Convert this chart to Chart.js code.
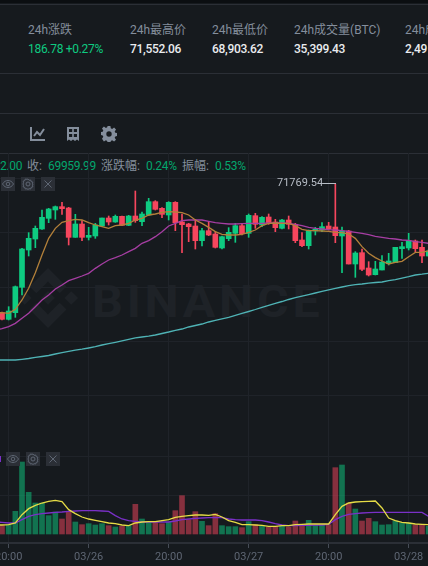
<!DOCTYPE html>
<html lang="zh">
<head>
<meta charset="utf-8">
<title>BTC/USDT</title>
<script src="https://cdn.jsdelivr.net/npm/chart.js@4/dist/chart.umd.min.js"></script>
<style>
    html, body { margin: 0; padding: 0; background: #161a1e; }
    body { position: relative; width: 428px; height: 566px; overflow: hidden; font-family: Roboto, "Noto Sans CJK SC", sans-serif; }
    .top-strip { position: absolute; left: 0; top: 0; width: 428px; height: 3px; background: #0b0e11; }
    .rule { position: absolute; left: 0; width: 428px; height: 1px; background: #2b2f36; }
    .txt { position: absolute; white-space: nowrap; line-height: 16px; font-size: 12px; letter-spacing: -0.3px; }
    .label { color: #848e9c; letter-spacing: 0; }
    .value { color: #eaecef; font-weight: 500; }
    .up { color: #0ecb81; }
    .legend { color: #848e9c; letter-spacing: 0; }
    .legend-up { color: #03a66d; }
    .btn { position: absolute; width: 14px; height: 14px; background: #2b2f36; }
    .btn svg { display: block; }
    .watermark { position: absolute; left: 92px; top: 277px; font-size: 44px; line-height: 50px; font-weight: 700; color: #1e2227; letter-spacing: 3.4px; transform: scaleX(1.1); transform-origin: left; }
    .logo { position: absolute; left: 18px; top: 268px; }
    canvas { position: absolute; left: 0; top: 0; }
</style>
</head>
<body>
<div class="top-strip"></div>
<div class="rule" style="top:4px"></div>
<div class="rule" style="top:73px"></div>
<div class="rule" style="top:113px"></div>
<div class="rule" style="top:153px"></div>

<div class="txt label" style="left:28px;top:22px">24h涨跌</div>
<div class="txt up" style="left:28px;top:41px">186.78 +0.27%</div>
<div class="txt label" style="left:130px;top:22px">24h最高价</div>
<div class="txt value" style="left:130px;top:41px">71,552.06</div>
<div class="txt label" style="left:212px;top:22px">24h最低价</div>
<div class="txt value" style="left:212px;top:41px">68,903.62</div>
<div class="txt label" style="left:294px;top:22px">24h成交量(BTC)</div>
<div class="txt value" style="left:294px;top:41px">35,399.43</div>
<div class="txt label" style="left:405px;top:22px">24h成交额(USDT)</div>
<div class="txt value" style="left:405px;top:41px">2,49</div>

<svg style="position:absolute;left:30px;top:126px" width="15" height="16" viewBox="0 0 15 16" fill="none" stroke="#848e9c" stroke-width="2">
    <path d="M1 1v13h14"/><path d="M4 10l3-4 3 3 4-6"/>
</svg>
<svg style="position:absolute;left:66px;top:126px" width="14" height="16" viewBox="0 0 14 16">
    <path fill="#848e9c" d="M1 1h12v14l-2-1.5-2 1.5-2-1.5-2 1.5-2-1.5-2 1.5z"/>
    <path fill="#161a1e" d="M3 3h3.2v3H3zM7.8 3H11v3H7.8zM3 8h3.2v3H3zM7.8 8H11v3H7.8z"/>
</svg>
<svg style="position:absolute;left:101px;top:126px" width="16" height="16" viewBox="0 0 16 16">
    <path fill="#848e9c" fill-rule="evenodd" d="M6.6 0h2.8l.4 2.3 1.3.6 2-1.3 1.9 1.9-1.3 2 .6 1.3 2.2.4v2.8l-2.2.4-.6 1.3 1.3 2-1.9 1.9-2-1.3-1.3.6-.4 2.2H6.6l-.4-2.2-1.3-.6-2 1.3L1 12.7l1.3-2-.6-1.3L-.5 9V6.200l2.200-.4.6-1.300-1.300-2L2.900 .6l2 1.300 1.300-.6zM8 5.300a2.700 2.700 0 1 0 0 5.400 2.700 2.700 0 0 0 0-5.400z"/>
</svg>

<div class="txt legend-up" style="left:0;top:158px">2.00</div>
<div class="txt legend" style="left:27px;top:158px">收:</div>
<div class="txt legend-up" style="left:48px;top:158px">69959.99</div>
<div class="txt legend" style="left:101px;top:158px">涨跌幅:</div>
<div class="txt legend-up" style="left:146px;top:158px">0.24%</div>
<div class="txt legend" style="left:182px;top:158px">振幅:</div>
<div class="txt legend-up" style="left:215px;top:158px">0.53%</div>

<svg class="logo" width="60" height="60" viewBox="0 0 126.61 126.61" fill="#1e2227">
    <path d="M38.73 53.2l24.59-24.58 24.6 24.6 14.3-14.31L63.32 0 24.43 38.89 38.73 53.2z"/>
    <path d="M0 63.31l14.3-14.31 14.31 14.31-14.31 14.3z"/>
    <path d="M38.73 73.41l24.59 24.59 24.6-24.6 14.31 14.29-38.9 38.91-38.91-38.88-.01-.01 14.32-14.3z"/>
    <path d="M98 63.31l14.3-14.31 14.31 14.3-14.31 14.31z"/>
    <path d="M77.83 63.3L63.32 48.78 52.59 59.51l-1.24 1.23-2.54 2.54 14.51 14.5 14.51-14.47z"/>
</svg>
<div class="watermark">BINANCE</div>

<canvas id="kline_chart" width="428" height="566"></canvas>

<div class="txt" style="left:277px;top:175px;color:#b7bdc6;font-size:11px;letter-spacing:0">71769.54</div>
<div style="position:absolute;left:323px;top:183px;width:13px;height:1px;background:#b7bdc6"></div>

<div id="price_btns"></div>
<div id="vol_btns"></div>
<div style="position:absolute;left:0;top:456px;width:1px;height:6px;background:#7a30c8"></div>

<script>
// candles, hourly, left to right
const opens = [67910, 67710, 67910, 68670, 69790, 70120, 70420, 70740, 70990, 71090, 71050, 70170, 70570, 70170, 70210, 70510, 70750, 70630, 70800, 70530, 70810, 70640,
    70840, 71240, 71040, 70840, 71220, 70630, 70570, 70510, 70070, 70370, 70270, 69850, 70130, 70290, 70520, 70290, 70820, 70540, 70780, 70630, 70440,
    70690, 70560, 70090, 69920, 70360, 70390, 70510, 70480, 70210, 70360, 69370, 69710, 69250, 69050, 69190, 69380, 69410, 69830, 69850, 70060, 69870, 69610];
const highs = [67930, 68090, 68710, 69840, 70310, 70510, 70990, 71040, 71110, 71220, 71070, 70860, 70670, 70470, 70590, 70750, 70810, 70840, 70810, 70830, 71560, 70930,
    71340, 71270, 71060, 71240, 71240, 70870, 70590, 70710, 70440, 70640, 70340, 70210, 70460, 70590, 70560, 70870, 70890, 70790, 70870, 70710, 70710,
    70810, 70590, 70310, 70390, 70470, 70610, 70620, 71770, 70480, 70380, 69740, 69820, 69440, 69450, 69620, 69690, 69870, 70020, 70290, 70090, 70090, 69810];
const lows = [67690, 67690, 67770, 68440, 69610, 69860, 70410, 70610, 70710, 70860, 69940, 70170, 70070, 70090, 70140, 70490, 70540, 70620, 70520, 70520, 70620, 70520,
    70820, 70990, 70760, 70690, 70370, 69710, 70040, 69820, 69910, 70220, 69850, 69820, 70070, 70020, 70240, 70170, 70440, 70490, 70560, 70340, 70420,
    70420, 70010, 69890, 69820, 70240, 70340, 70390, 70010, 69110, 69370, 68970, 69170, 69010, 69040, 69190, 69340, 69410, 69540, 69790, 69740, 69410, 69590];
const closes = [67710, 67960, 68690, 69820, 70140, 70440, 70770, 71020, 71090, 71030, 70170, 70570, 70170, 70230, 70540, 70750, 70630, 70800, 70530, 70810, 70670, 70870,
    71240, 71010, 70860, 71220, 70610, 70550, 70490, 70070, 70370, 70240, 69870, 70190, 70320, 70520, 70280, 70830, 70560, 70770, 70590, 70460, 70690,
    70560, 70070, 69920, 70370, 70410, 70490, 70420, 70220, 70360, 69370, 69700, 69210, 69040, 69220, 69430, 69460, 69870, 69890, 70070, 69830, 69610, 69760];

// moving averages over the candles, each starts one hour before the first candle
const ma7 = [67900, 67910, 67890, 68010, 68290, 68640, 69110, 69640, 70140, 70440, 70620, 70670, 70710, 70690, 70610, 70540, 70490, 70440, 70520, 70540, 70590, 70690, 70740,
    70840, 70870, 70920, 70940, 70930, 70910, 70840, 70690, 70590, 70470, 70340, 70260, 70240, 70240, 70260, 70320, 70390, 70520, 70590, 70600, 70590,
    70590, 70520, 70410, 70370, 70370, 70360, 70350, 70320, 70310, 70270, 70140, 69890, 69690, 69560, 69460, 69370, 69420, 69450, 69590, 69720, 69720, 69770];
const ma25 = [67390, 67430, 67490, 67590, 67740, 67890, 68090, 68290, 68440, 68620, 68740, 68870, 68940, 69010, 69090, 69240, 69370, 69490, 69560, 69640, 69740, 69840, 69990,
    70070, 70190, 70340, 70510, 70590, 70670, 70690, 70690, 70690, 70650, 70610, 70590, 70570, 70570, 70580, 70590, 70590, 70590, 70600, 70600, 70600,
    70590, 70560, 70520, 70470, 70440, 70420, 70400, 70390, 70370, 70350, 70320, 70290, 70250, 70200, 70170, 70140, 70120, 70090, 70080, 70040, 70020, 69990];
const ma99 = [66490, 66490, 66490, 66490, 66511, 66535, 66568, 66595, 66625, 66670, 66709, 66748, 66784, 66814, 66850, 66889, 66940, 66979, 67021, 67066, 67111, 67156, 67180,
    67204, 67240, 67285, 67330, 67381, 67420, 67480, 67525, 67570, 67630, 67681, 67726, 67771, 67831, 67888, 67945, 68005, 68071, 68131, 68191, 68245,
    68305, 68359, 68404, 68452, 68500, 68548, 68596, 68638, 68680, 68722, 68752, 68770, 68794, 68815, 68830, 68869, 68902, 68944, 68989, 69040, 69064, 69094];

// volume pane
const volumes = [500, 560, 1360, 4320, 2500, 1860, 1860, 1100, 1320, 900, 1360, 720, 560, 620, 540, 620, 500, 420, 460, 500, 1780, 900,
    700, 700, 620, 700, 1400, 2300, 860, 1340, 760, 500, 1220, 500, 440, 440, 380, 740, 560, 460, 420, 460, 460,
    420, 780, 500, 820, 520, 520, 560, 3980, 4140, 1860, 1500, 780, 940, 740, 540, 560, 780, 660, 660, 540, 540, 460];
const volMa5 = [540, 540, 560, 660, 1160, 1520, 1720, 1860, 1960, 2020, 1940, 1460, 1220, 1020, 900, 820, 740, 660, 620, 540, 500, 660, 720,
    740, 740, 800, 860, 1000, 1060, 1100, 1140, 1140, 1120, 1180, 1020, 800, 700, 560, 560, 540, 520, 460, 460, 500,
    500, 560, 580, 600, 600, 600, 600, 1160, 1660, 1860, 1920, 1940, 1960, 1980, 1560, 960, 800, 700, 660, 600, 580, 560];
const volMa10 = [720, 700, 660, 660, 860, 1060, 1160, 1220, 1260, 1300, 1320, 1360, 1380, 1400, 1400, 1400, 1380, 1360, 1100, 900, 800, 760, 720,
    720, 720, 720, 720, 780, 860, 900, 940, 960, 980, 980, 980, 900, 860, 840, 840, 840, 800, 720, 620, 540,
    500, 500, 520, 520, 540, 540, 580, 860, 1060, 1180, 1220, 1260, 1280, 1300, 1300, 1300, 1300, 1300, 1300, 1300, 1300, 1060];

// axes
const xTickIndexes = [1, 13, 25, 37, 49, 61];
const xTickLabels = ["20:00", "03/26", "20:00", "03/27", "20:00", "03/28"];
const priceGridTicks = [71950, 70320, 68680, 67050, 65420];
const volumeGridTicks = [4680, 2340];

const upColor = "#0ecb81";
const downColor = "#f6465d";
const upVolColor = "rgba(14, 203, 129, 0.5)";
const downVolColor = "rgba(246, 70, 93, 0.5)";
const gridColor = "#1f2329";

const isUp = (i) => closes[i] >= opens[i];
const candleColors = opens.map((_, i) => (isUp(i) ? upColor : downColor));
const volumeColors = opens.map((_, i) => (isUp(i) ? upVolColor : downVolColor));

function lineSet(values, color, axis) {
    return {
        type: "line",
        data: values.map((v, i) => ({ x: i - 1, y: v })),
        yAxisID: axis,
        borderColor: color,
        borderWidth: 1.3,
        pointRadius: 0,
        tension: 0,
        order: 0,
    };
}

const wicks = {
    type: "bar",
    data: opens.map((_, i) => ({ x: i, y: [lows[i], highs[i]] })),
    backgroundColor: candleColors,
    barThickness: 1,
    grouped: false,
    yAxisID: "y",
    order: 3,
};

const bodies = {
    type: "bar",
    data: opens.map((_, i) => ({ x: i, y: [opens[i], closes[i]] })),
    backgroundColor: candleColors,
    barThickness: 5,
    grouped: false,
    yAxisID: "y",
    order: 2,
};

const volumeBars = {
    type: "bar",
    data: volumes.map((v, i) => ({ x: i, y: v })),
    backgroundColor: volumeColors,
    barThickness: 5,
    grouped: false,
    yAxisID: "yVol",
    order: 1,
};

const kline = new Chart(document.querySelector("#kline_chart").getContext("2d"), {
    data: {
        datasets: [
            wicks,
            bodies,
            volumeBars,
            lineSet(ma7, "#b3803a", "y"),
            lineSet(ma25, "#a63ea3", "y"),
            lineSet(ma99, "#4fb3b5", "y"),
            lineSet(volMa5, "#e6dc46", "yVol"),
            lineSet(volMa10, "#7a30c8", "yVol"),
        ],
    },
    options: {
        responsive: false,
        animation: false,
        layout: { padding: { top: 153, left: 0, right: 0, bottom: 0 } },
        plugins: { legend: { display: false }, tooltip: { enabled: false } },
        scales: {
            x: {
                type: "linear",
                offset: false,
                min: -0.3,
                max: 63.9,
                afterBuildTicks: (scale) => {
                    scale.ticks = xTickIndexes.map((v) => ({ value: v }));
                },
                afterFit: (scale) => {
                    scale.height = 23;
                    scale.paddingLeft = 0;
                    scale.paddingRight = 0;
                },
                grid: { offset: false, color: gridColor, tickColor: "#474d57", tickLength: 5 },
                border: { color: "#2b2f36", width: 2 },
                ticks: {
                    autoSkip: false,
                    maxRotation: 0,
                    padding: 3,
                    color: "#5e6673",
                    font: { family: 'Roboto, "Noto Sans CJK SC", sans-serif', size: 11 },
                    callback: (value, index) => xTickLabels[index],
                },
            },
            y: {
                min: 61000,
                max: 72700,
                afterBuildTicks: (scale) => {
                    scale.ticks = priceGridTicks.map((v) => ({ value: v }));
                },
                afterFit: (scale) => { scale.width = 0; },
                ticks: { display: false },
                grid: { color: gridColor, drawTicks: false },
                border: { display: false },
            },
            yVol: {
                position: "right",
                min: -540,
                max: 22860,
                afterBuildTicks: (scale) => {
                    scale.ticks = volumeGridTicks.map((v) => ({ value: v }));
                },
                afterFit: (scale) => { scale.width = 0; },
                ticks: { display: false },
                grid: { color: gridColor, drawTicks: false },
                border: { display: false },
            },
        },
    },
});

// pane buttons
const eyeIcon = '<path d="M1.500 7C3 4.500 5 3.500 7 3.500S11 4.500 12.500 7C11 9.500 9 10.500 7 10.500S3 9.500 1.500 7z"/><circle cx="7" cy="7" r="1.800"/>';
const gearIcon = '<path d="M7 2l1 1.300 1.700-.3.500 1.600 1.600.5-.3 1.700L12 7l-.500 1.200.3 1.700-1.600.5-.5 1.600-1.700-.3L7 12.500l-1-.8-1.700.3-.5-1.600-1.600-.5.3-1.700L2 7l.5-1.200-.3-1.700 1.600-.5.5-1.600 1.700.3z"/><circle cx="7" cy="7" r="2"/>';
const closeIcon = '<path d="M3.500 3.500l7 7M10.500 3.500l-7 7"/>';

function addButtons(holderId, lefts, top) {
    const holder = document.getElementById(holderId);
    [eyeIcon, gearIcon, closeIcon].forEach((icon, i) => {
        holder.innerHTML += `<div class="btn" style="left:${lefts[i]}px;top:${top}px"><svg width="14" height="14" viewBox="0 0 14 14" fill="none" stroke="#5e6673" stroke-width="1">${icon}</svg></div>`;
    });
}
addButtons("price_btns", [1, 21, 41], 177);
addButtons("vol_btns", [6, 26, 46], 452);
</script>
</body>
</html>
